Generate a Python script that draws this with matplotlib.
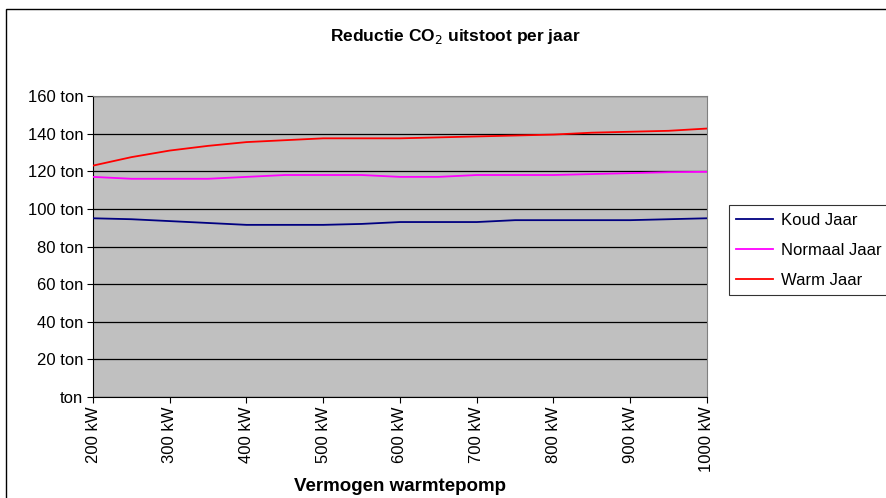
import numpy as np
import matplotlib.pyplot as plt
from matplotlib.patches import Rectangle

plt.rcParams['font.family'] = ['Liberation Sans', 'DejaVu Sans']

# vermogen warmtepomp in kW
vermogen = [200, 250, 300, 350, 400, 450, 500, 550, 600, 650, 700, 750, 800, 850, 900, 950, 1000]

# reductie CO2 in ton per jaar
koud = [95, 94.5, 93.5, 92.5, 91.5, 91.5, 91.5, 92, 93, 93, 93, 94, 94, 94, 94, 94.5, 95]
normaal = [117, 116, 116, 116, 117, 118, 118, 118, 117, 117, 118, 118, 118, 118.5, 119, 119.5, 119.7]
warm = [123, 127.5, 131, 133.5, 135.5, 136.5, 137.5, 137.5, 137.5, 138, 138.5, 139, 139.5, 140.5, 141, 141.5, 142.7]

series = [("Koud Jaar", koud, "#000080"),
          ("Normaal Jaar", normaal, "#FF00FF"),
          ("Warm Jaar", warm, "#FF0000")]

fig = plt.figure(figsize=(8.87, 4.98), dpi=100)
ax = fig.add_axes([93/887, 1 - 397/498, 614/887, 301/498])
ax.set_facecolor("#C0C0C0")

for name, vals, col in series:
    ax.plot(vermogen, vals, color=col, lw=1.3, label=name, zorder=3)

ax.set_xlim(200, 1000)
ax.set_ylim(0, 160)
ax.set_yticks(np.arange(0, 161, 20))
ax.set_yticklabels([f"{v} ton" if v else "ton" for v in range(0, 161, 20)], fontsize=12)
ax.set_xticks(np.arange(200, 1001, 100))
ax.set_xticklabels([f"{v} kW" for v in range(200, 1001, 100)], rotation=90, fontsize=12)
ax.tick_params(direction="out", length=4, width=0.8, colors="black", pad=3)
ax.grid(axis="y", color="black", lw=0.9, zorder=1)
ax.set_axisbelow(True)
for side in ["top", "right"]:
    ax.spines[side].set_color("#808080")
ax.spines["left"].set_color("black")
ax.spines["bottom"].set_color("black")

ax.set_xlabel("Vermogen warmtepomp", fontsize=13.5, fontweight="bold", labelpad=4)
fig.text(0.513, 1 - 37/498, "Reductie CO$_2$ uitstoot per jaar", ha="center", va="center",
         fontsize=12.5, fontweight="bold")

leg = fig.legend(loc="upper left", bbox_to_anchor=(729/887, 1 - 205/498), fontsize=12,
                 frameon=True, fancybox=False, edgecolor="black", borderpad=0.45,
                 borderaxespad=0, handlelength=2.2, handletextpad=0.45, labelspacing=0.9)
leg.get_frame().set_linewidth(0.8)

# kader rond de grafiek
fig.patches.append(Rectangle((6/887, -0.1), 1.1, 1.1 - 9/498, transform=fig.transFigure,
                             fill=False, edgecolor="black", lw=1))

fig.savefig("out.png", dpi=100)
